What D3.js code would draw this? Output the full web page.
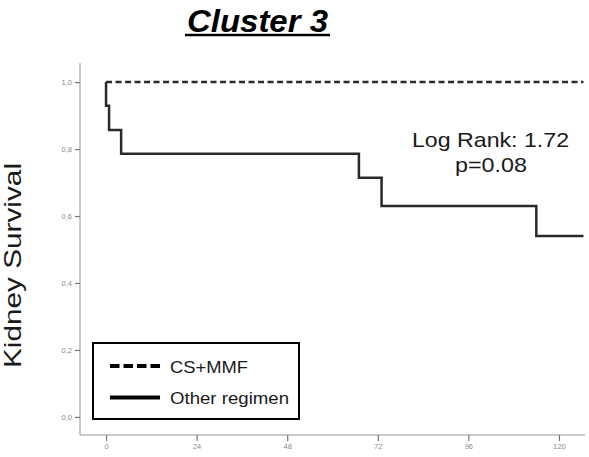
<!DOCTYPE html>
<html>
<head>
<meta charset="utf-8">
<script src="https://cdn.jsdelivr.net/npm/d3@7"></script>
<style>
  html, body { margin: 0; padding: 0; background: #fff; }
  svg { display: block; font-family: "Liberation Sans", Arial, Helvetica, sans-serif; }
</style>
</head>
<body>
<svg id="chart" width="589" height="457"></svg>
<script>
// ---- data ----
const titleText = "Cluster 3";
const yLabel = "Kidney Survival";
const xTicks = [0, 24, 48, 72, 96, 120];
const yTicks = [0, 0.2, 0.4, 0.6, 0.8, 1.0];
const yTickLabels = ["0,0", "0,2", "0,4", "0,6", "0,8", "1,0"];
const seriesNames = ["CS+MMF", "Other regimen"];
// Kaplan-Meier steps: times (months) and survival after each step
const csmmfTimes = [0, 126.5];
const csmmfSurv = [1.0, 1.0];
const otherTimes = [0, 0, 0.8, 4, 67, 73, 114, 126.5];
const otherSurv = [1.0, 0.929, 0.857, 0.786, 0.714, 0.63, 0.54, 0.54];
const statLines = ["Log Rank: 1.72", "p=0.08"];

// ---- layout ----
const svg = d3.select("#chart");
const x = d3.scaleLinear().domain([-6.9, 126.9]).range([80, 585]);
const y = d3.scaleLinear().domain([-0.054, 1.057]).range([435, 63]);
const axisColor = "#b8b8b8";
const tickText = "#8a8a8a";

// axes
const xAxis = d3.axisBottom(x).tickValues(xTicks).tickSize(6).tickPadding(3).tickFormat(d3.format("d"));
const gx = svg.append("g").attr("transform", `translate(0,${y.range()[0]})`).call(xAxis);
gx.select(".domain").attr("stroke", axisColor).attr("stroke-width", 1.5);
gx.selectAll(".tick line").attr("stroke", "#777").attr("stroke-width", 1.2);
gx.selectAll(".tick text").attr("fill", tickText).attr("font-size", 7.5)
  .attr("font-family", "'Liberation Sans', Arial, sans-serif");

const yAxis = d3.axisLeft(y).tickValues(yTicks).tickSize(5).tickPadding(3)
  .tickFormat((d, i) => yTickLabels[i]);
const gy = svg.append("g").attr("transform", `translate(${x.range()[0]},0)`).call(yAxis);
gy.select(".domain").attr("stroke", axisColor).attr("stroke-width", 1.5);
gy.selectAll(".tick line").attr("stroke", "#777").attr("stroke-width", 1.2);
gy.selectAll(".tick text").attr("fill", tickText).attr("font-size", 7.5)
  .attr("font-family", "'Liberation Sans', Arial, sans-serif");
// remove outer domain ticks (keep straight lines)
gx.select(".domain").attr("d", `M${x.range()[0]},0H${x.range()[1]}`);
gy.select(".domain").attr("d", `M0,${y.range()[0]}V${y.range()[1]}`);

// curves
const line = d3.line().x(d => x(d[0])).y(d => y(d[1])).curve(d3.curveStepAfter);
svg.append("path")
  .datum(csmmfTimes.map((t, i) => [t, csmmfSurv[i]]))
  .attr("d", line).attr("fill", "none").attr("stroke", "#2a2a2a")
  .attr("stroke-width", 2.5).attr("stroke-dasharray", "6,3.5");
svg.append("path")
  .datum(otherTimes.map((t, i) => [t, otherSurv[i]]))
  .attr("d", line).attr("fill", "none").attr("stroke", "#2a2a2a")
  .attr("stroke-width", 2.5);

// title
const title = svg.append("text").attr("x", 257.5).attr("y", 32)
  .attr("text-anchor", "middle").attr("font-size", 32).attr("font-weight", "bold")
  .attr("font-style", "italic").attr("fill", "#000")
  .attr("textLength", 141).attr("lengthAdjust", "spacingAndGlyphs")
  .text(titleText);
svg.append("line").attr("x1", 185).attr("x2", 330).attr("y1", 35).attr("y2", 35)
  .attr("stroke", "#000").attr("stroke-width", 2.5);

// y label
svg.append("text").attr("transform", "translate(20.5,265.5) rotate(-90)")
  .attr("text-anchor", "middle").attr("font-size", 24).attr("fill", "#1a1a1a")
  .attr("textLength", 205).attr("lengthAdjust", "spacingAndGlyphs")
  .text(yLabel);

// stats
svg.append("text").attr("x", 490.5).attr("y", 146.5).attr("text-anchor", "middle")
  .attr("font-size", 21).attr("fill", "#1a1a1a")
  .attr("textLength", 157).attr("lengthAdjust", "spacingAndGlyphs").text(statLines[0]);
svg.append("text").attr("x", 491).attr("y", 172).attr("text-anchor", "middle")
  .attr("font-size", 21).attr("fill", "#1a1a1a")
  .attr("textLength", 72).attr("lengthAdjust", "spacingAndGlyphs").text(statLines[1]);

// legend
const lg = svg.append("g");
lg.append("rect").attr("x", 93).attr("y", 343).attr("width", 206).attr("height", 76)
  .attr("fill", "#fff").attr("stroke", "#000").attr("stroke-width", 2);
const legendY = [366, 397.5];
const legendTextLen = [78, 119];
seriesNames.forEach((name, i) => {
  lg.append("line").attr("x1", 110).attr("x2", 160).attr("y1", legendY[i]).attr("y2", legendY[i])
    .attr("stroke", "#000").attr("stroke-width", 4)
    .attr("stroke-dasharray", i === 0 ? "9.5,4" : null);
  lg.append("text").attr("x", 170).attr("y", legendY[i] + 6.5)
    .attr("font-size", 17).attr("fill", "#1a1a1a")
    .attr("textLength", legendTextLen[i]).attr("lengthAdjust", "spacingAndGlyphs")
    .text(name);
});
</script>
</body>
</html>
